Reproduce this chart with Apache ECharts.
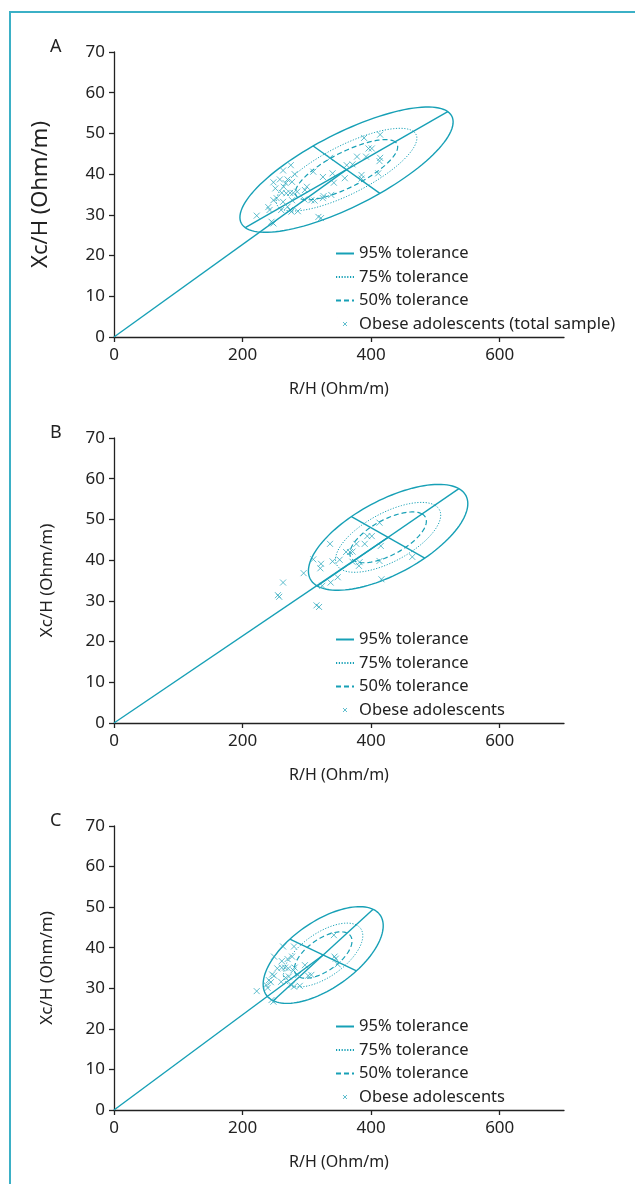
<!DOCTYPE html>
<html>
<head>
<meta charset="utf-8">
<script src="https://cdn.jsdelivr.net/npm/echarts@6/dist/echarts.min.js"></script>
<style>
  html, body { margin: 0; padding: 0; background: #fff; }
  #frame { position: absolute; left: 9px; top: 11px; right: 0; bottom: 0;
           border-top: 2px solid #3bb0c6; border-left: 2px solid #3bb0c6; }
  #chart { position: absolute; left: 0; top: 0; width: 635px; height: 1184px; }
</style>
</head>
<body>
<div id="frame"></div>
<div id="chart"></div>
<script>
  // tick labels
  const xTicks = [0, 200, 400, 600]
  const panelLetters = ['A', 'B', 'C']
  const toleranceNames = ['95% tolerance', '75% tolerance', '50% tolerance']
  const toleranceScale = [1, 0.66, 0.48]
  const sampleNames = ['Obese adolescents (total sample)', 'Obese adolescents', 'Obese adolescents']

  // ellipse geometry: centre, major and minor semi-axes (R/H, Xc/H)
  const centerA = [361.7, 41.1]
  const majorA = [157.5, 14.25]
  const minorA = [-51.9, 5.82]
  const centerB = [426.4, 45.6]
  const majorB = [110.1, 11.96]
  const minorB = [-57.0, 5.11]
  const centerC = [325.4, 38.2]
  const majorC = [77.7, 11.26]
  const minorC = [-51.8, 3.9]

  // obese adolescents, [R/H, Xc/H]
  const pointsA = [
    [414, 49.7], [389, 48.9], [396, 46.3], [401, 46.3], [378, 44.3], [392, 44.3],
    [414, 44.0], [413, 43.2], [336, 44.0], [362, 42.2], [371, 42.4], [385, 39.8],
    [385, 38.9], [411, 40.2], [325, 39.3], [340, 40.2], [342, 37.9], [326, 34.6],
    [338, 34.9], [359, 39.0], [300, 36.9], [297, 36.1], [307, 33.6], [312, 33.5],
    [275, 42.2], [263, 40.9], [281, 40.0], [270, 38.7], [267, 37.8], [258, 38.7],
    [248, 38.0], [277, 38.1], [251, 36.5], [264, 36.9], [261, 35.4], [268, 35.3],
    [274, 35.4], [279, 35.4], [285, 35.7], [248, 33.6], [253, 34.1], [263, 33.2],
    [277, 33.6], [240, 31.9], [242, 31.2], [260, 31.2], [270, 32.0], [274, 31.2],
    [276, 30.8], [286, 30.9], [222, 29.8], [245, 28.3], [248, 27.9], [296, 33.8],
    [325, 34.1], [318, 29.5], [322, 29.2], [310, 40.6]
  ]
  const pointsB = [
    [413, 49.2], [394, 45.9], [401, 45.9], [377, 44.0], [390, 44.0], [415, 43.5],
    [361, 42.0], [367, 42.0], [371, 42.1], [336, 44.0], [340, 39.7], [351, 40.1],
    [310, 40.2], [322, 39.1], [321, 38.0], [371, 39.6], [382, 39.5], [381, 38.6],
    [413, 39.8], [464, 40.8], [295, 36.8], [348, 35.8], [337, 34.5], [324, 33.7],
    [416, 35.3], [263, 34.5], [255, 31.4], [257, 31.0], [315, 28.9], [319, 28.5]
  ]
  const pointsC = [
    [342, 43.1], [280, 40.3], [263, 40.3], [277, 37.8], [270, 37.2], [249, 37.8],
    [261, 36.7], [254, 34.9], [261, 35.1], [266, 35.1], [271, 34.9], [281, 35.1],
    [279, 34.4], [343, 37.8], [345, 37.3], [348, 35.9], [246, 33.4], [249, 33.1],
    [267, 32.6], [272, 32.9], [286, 33.3], [302, 33.1], [307, 33.3], [241, 32.0],
    [244, 31.5], [260, 31.6], [237, 30.8], [239, 30.1], [276, 30.8], [280, 30.4],
    [289, 30.6], [222, 29.3], [245, 27.1], [248, 26.7], [297, 35.7]
  ]

  const teal = '#17a0b6'
  const crossTeal = '#36adc0'
  const font = '"Noto Sans", "Open Sans", sans-serif'
  const cross = 'path://M0,0L10,10M10,0L0,10'
  const crossIcon = 'path://M0,0L0.01,0M5,5L9,9M9,5L5,9M14,14L14.01,14'
  const dashes = [null, [1.2, 1.6], [5, 3]]
  const widths = [1.4, 1, 1.2]

  const panels = [
    { top: 52, height: 285, center: centerA, major: majorA, minor: minorA, points: pointsA, nameSize: 22, nameGap: 62 },
    { top: 438, height: 285, center: centerB, major: majorB, minor: minorB, points: pointsB, nameSize: 17, nameGap: 58 },
    { top: 826, height: 284, center: centerC, major: majorC, minor: minorC, points: pointsC, nameSize: 17, nameGap: 58 }
  ]

  function ellipseRenderer (p) {
    return function (params, api) {
      const children = []
      toleranceScale.forEach(function (k, i) {
        const pts = []
        for (let j = 0; j <= 120; j++) {
          const t = j / 120 * Math.PI * 2
          const c = Math.cos(t)
          const s = Math.sin(t)
          pts.push(api.coord([
            p.center[0] + k * (p.major[0] * c + p.minor[0] * s),
            p.center[1] + k * (p.major[1] * c + p.minor[1] * s)
          ]))
        }
        children.push({
          type: 'polyline',
          shape: { points: pts },
          style: { stroke: teal, fill: null, lineWidth: widths[i], lineDash: dashes[i] }
        })
      })
      const axisEnds = [p.major, p.minor]
      axisEnds.forEach(function (a) {
        const p1 = api.coord([p.center[0] - a[0], p.center[1] - a[1]])
        const p2 = api.coord([p.center[0] + a[0], p.center[1] + a[1]])
        children.push({
          type: 'line',
          shape: { x1: p1[0], y1: p1[1], x2: p2[0], y2: p2[1] },
          style: { stroke: teal, lineWidth: 1.4 }
        })
      })
      return { type: 'group', children: children }
    }
  }

  const grid = []
  const xAxis = []
  const yAxis = []
  const legend = []
  const title = []
  const series = []

  panels.forEach(function (p, i) {
    grid.push({ left: 114, top: p.top, width: 450, height: p.height })
    title.push({
      text: panelLetters[i], left: 45, top: p.top - 19,
      textStyle: { fontFamily: font, fontSize: 18, fontWeight: 'normal', color: '#222' }
    })
    xAxis.push({
      type: 'value', gridIndex: i, min: 0, max: 700,
      name: 'R/H (Ohm/m)', nameLocation: 'middle', nameGap: 44,
      nameTextStyle: { fontFamily: font, fontSize: 16, color: '#222' },
      axisLine: { lineStyle: { color: '#222', width: 1.3 } },
      axisTick: { length: 5, customValues: xTicks, lineStyle: { color: '#222', width: 1.3 } },
      axisLabel: { customValues: xTicks, margin: 10, fontFamily: font, fontSize: 17, color: '#222' },
      splitLine: { show: false }
    })
    yAxis.push({
      type: 'value', gridIndex: i, min: 0, max: 70, interval: 10,
      name: 'Xc/H (Ohm/m)', nameLocation: 'middle', nameGap: p.nameGap,
      nameTextStyle: { fontFamily: font, fontSize: p.nameSize, color: '#222' },
      axisLine: { show: true, lineStyle: { color: '#222', width: 1.3 } },
      axisTick: { show: true, length: 5, lineStyle: { color: '#222', width: 1.3 } },
      axisLabel: { margin: 9, fontFamily: font, fontSize: 17, color: '#222' },
      splitLine: { show: false }
    })
    legend.push({
      orient: 'vertical', left: 330, top: p.top + p.height - 97,
      itemWidth: 18, itemHeight: 14, itemGap: 6.5,
      textStyle: { fontFamily: font, fontSize: 16.5, color: '#222' },
      selectedMode: false,
      data: toleranceNames.map(function (n) {
        return { name: n, itemStyle: { opacity: 0 } }
      }).concat([{
        name: sampleNames[i], icon: crossIcon,
        itemStyle: { color: 'rgba(0,0,0,0)', borderColor: crossTeal, borderWidth: 1 }
      }])
    })
    toleranceNames.forEach(function (n, j) {
      series.push({
        name: n, type: 'line', xAxisIndex: i, yAxisIndex: i,
        symbol: 'none', silent: true, color: teal,
        lineStyle: { color: teal, width: j === 0 ? 1.4 : 1.2, type: j === 0 ? 'solid' : (j === 1 ? [1.2, 1.6] : [5, 3]) },
        data: j === 0 ? [[0, 0], p.center] : []
      })
    })
    series.push({
      name: 'ellipses' + i, type: 'custom', xAxisIndex: i, yAxisIndex: i,
      silent: true, renderItem: ellipseRenderer(p), data: [p.center]
    })
    series.push({
      name: sampleNames[i], type: 'scatter', xAxisIndex: i, yAxisIndex: i,
      symbol: cross, symbolSize: 6,
      itemStyle: { color: 'rgba(0,0,0,0)', borderColor: crossTeal, borderWidth: 1 },
      data: p.points
    })
  })

  const chart = echarts.init(document.getElementById('chart'))
  chart.setOption({
    animation: false,
    title: title,
    grid: grid,
    xAxis: xAxis,
    yAxis: yAxis,
    legend: legend,
    series: series
  })
</script>
</body>
</html>
